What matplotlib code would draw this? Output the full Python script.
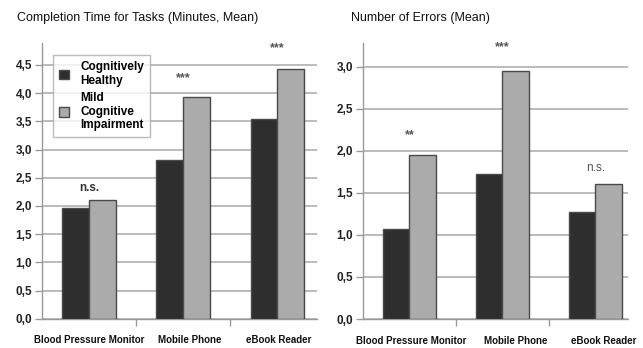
import numpy as np
import matplotlib
matplotlib.use("Agg")
import matplotlib.pyplot as plt
from matplotlib.patches import Patch

plt.rcParams['font.family'] = ['Liberation Sans', 'DejaVu Sans']

devices = ["Blood Pressure Monitor", "Mobile Phone", "eBook Reader"]
groups = ["Cognitively\nHealthy", "Mild\nCognitive\nImpairment"]

time_healthy = [1.97, 2.82, 3.54]
time_mci = [2.11, 3.93, 4.42]
time_sig = ["n.s.", "***", "***"]

err_healthy = [1.07, 1.72, 1.27]
err_mci = [1.95, 2.95, 1.61]
err_sig = ["**", "***", "n.s."]

dark = "#2e2e2e"
light = "#ababab"
edge = "#4a4a4a"
gridc = "#b5b5b5"

fig = plt.figure(figsize=(6.43, 3.48), dpi=100)
W, H = 643, 348

def panel(rect, healthy, mci, sig, ymax, ystep, title, title_x, sig_off, xright,
          lab_off, ns_bold):
    ax = fig.add_axes(rect)
    x = np.arange(len(devices))
    w = 0.285
    ax.bar(x - w / 2, healthy, w, color=dark, edgecolor=edge, linewidth=1, zorder=3)
    ax.bar(x + w / 2, mci, w, color=light, edgecolor=edge, linewidth=1, zorder=3)
    for i, s in enumerate(sig):
        top = max(healthy[i], mci[i])
        if s.startswith("*"):
            ax.text(x[i], top + sig_off[i], s, ha="center", va="center",
                    fontsize=9, fontweight="bold", color="#555555")
        else:
            ax.text(x[i], top + sig_off[i], s, ha="center", va="center",
                    fontsize=8.5, fontweight="bold" if ns_bold else "normal",
                    color="#333333" if ns_bold else "#555555")
    ax.set_xlim(-0.5, xright)
    ax.set_ylim(0, ymax)
    yt = np.arange(0, ymax, ystep)
    ax.set_yticks(yt)
    ax.set_yticklabels([f"{v:.1f}".replace(".", ",") for v in yt],
                       fontsize=8.5, fontweight="bold", color="#222222")
    ax.yaxis.grid(True, color=gridc, linewidth=1.3, zorder=0)
    ax.set_xticks([0.5, 1.5])
    ax.set_xticklabels([])
    ax.set_xticks(x + np.array(lab_off), minor=True)
    ax.set_xticklabels(devices, minor=True, fontsize=7, fontweight="bold",
                       color="#111111")
    ax.tick_params(axis="x", which="minor", length=0, pad=12)
    ax.tick_params(axis="x", which="major", length=5, color="#999999", width=1)
    ax.tick_params(axis="y", length=5, color="#999999", width=1, pad=2)
    for s in ["top", "right"]:
        ax.spines[s].set_visible(False)
    for s in ["left", "bottom"]:
        ax.spines[s].set_color("#999999")
        ax.spines[s].set_linewidth(1)
    fig.text(title_x / W, 1 - 18 / H, title, fontsize=9, va="center", ha="left",
             color="#111111")
    return ax

ax1 = panel([42 / W, (H - 318.7) / H, 275 / W, 275.7 / H],
            time_healthy, time_mci, time_sig, 4.89, 0.5,
            "Completion Time for Tasks (Minutes, Mean)", 17,
            [0.2, 0.33, 0.37], 2.42, [0, 0.07, 0.01], True)
ax2 = panel([363 / W, (H - 319) / H, 265 / W, 276 / H],
            err_healthy, err_mci, err_sig, 3.28, 0.5,
            "Number of Errors (Mean)", 351,
            [0.23, 0.28, 0.18], 2.35, [0.02, 0.14, 0.085], False)

handles = [Patch(facecolor=dark, edgecolor=edge), Patch(facecolor=light, edgecolor=edge)]
leg = ax1.legend(handles, groups, loc="upper left", bbox_to_anchor=(0.04, 0.955),
                 frameon=True, fancybox=False, prop={"weight": "bold", "size": 8.5},
                 handlelength=0.85, handleheight=0.85, borderpad=0.5, labelspacing=0.4,
                 handletextpad=1.0, borderaxespad=0)
leg.get_frame().set_edgecolor("#aaaaaa")
leg.get_frame().set_linewidth(1)
leg.set_zorder(5)

fig.savefig("out.png", dpi=100)
